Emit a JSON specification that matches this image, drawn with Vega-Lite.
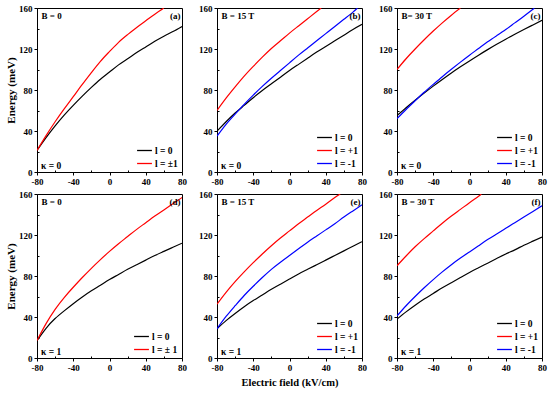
{
"$schema":"https://vega.github.io/schema/vega-lite/v6.json",
"padding":{"left":5,"top":3,"right":5,"bottom":3},
"background":"white",
"config":{
 "font":"Liberation Serif",
 "view":{"stroke":"black","strokeWidth":1},
 "axis":{"grid":false,"labelFont":"Liberation Serif","labelFontWeight":"bold","labelFontSize":9,"labelColor":"black","tickColor":"black","domainColor":"black","tickSize":{"expr":"datum.value % 40 === 0 ? 3 : -2"},"labelPadding":2,"labelFlush":false,"labelOverlap":false,"titleFont":"Liberation Serif","titleFontWeight":"bold","titleFontSize":11,"titleColor":"black","titlePadding":2,"labelExpr":"datum.value % 40 === 0 ? toString(datum.value) : ''"},
 "axisX":{"titlePadding":5,"titleFontSize":10.5},
 "legend":{"title":null,"orient":"bottom-right","offset":4,"symbolType":"stroke","symbolSize":220,"symbolStrokeWidth":1.3,"labelFont":"Liberation Serif","labelFontWeight":"bold","labelFontSize":9.5,"labelColor":"black","rowPadding":-4.5,"labelOffset":2,"padding":0},
 "text":{"font":"Liberation Serif","fontWeight":"bold","fontSize":9,"color":"black"}
},
"data":{"values":[
{"p":"a","s":"l = 0","x":-80,"y":21},{"p":"a","s":"l = 0","x":-70,"y":33.5},{"p":"a","s":"l = 0","x":-60,"y":45},{"p":"a","s":"l = 0","x":-50,"y":55.5},{"p":"a","s":"l = 0","x":-40,"y":65},{"p":"a","s":"l = 0","x":-30,"y":74},{"p":"a","s":"l = 0","x":-20,"y":82.5},{"p":"a","s":"l = 0","x":-10,"y":90.5},{"p":"a","s":"l = 0","x":0,"y":97.5},{"p":"a","s":"l = 0","x":10,"y":104.5},{"p":"a","s":"l = 0","x":20,"y":110.5},{"p":"a","s":"l = 0","x":30,"y":116.5},{"p":"a","s":"l = 0","x":40,"y":122},{"p":"a","s":"l = 0","x":50,"y":127.5},{"p":"a","s":"l = 0","x":60,"y":132.5},{"p":"a","s":"l = 0","x":70,"y":137},{"p":"a","s":"l = 0","x":80,"y":142},
{"p":"a","s":"l = ±1","x":-80,"y":21},{"p":"a","s":"l = ±1","x":-70,"y":35.5},{"p":"a","s":"l = ±1","x":-60,"y":49},{"p":"a","s":"l = ±1","x":-50,"y":61.5},{"p":"a","s":"l = ±1","x":-40,"y":73.5},{"p":"a","s":"l = ±1","x":-30,"y":85.5},{"p":"a","s":"l = ±1","x":-20,"y":97},{"p":"a","s":"l = ±1","x":-10,"y":108},{"p":"a","s":"l = ±1","x":0,"y":117.5},{"p":"a","s":"l = ±1","x":10,"y":126.5},{"p":"a","s":"l = ±1","x":20,"y":134},{"p":"a","s":"l = ±1","x":30,"y":141},{"p":"a","s":"l = ±1","x":40,"y":147.5},{"p":"a","s":"l = ±1","x":50,"y":154},{"p":"a","s":"l = ±1","x":60,"y":160},
{"p":"b","s":"l = 0","x":-80,"y":40},{"p":"b","s":"l = 0","x":-70,"y":49},{"p":"b","s":"l = 0","x":-60,"y":57.5},{"p":"b","s":"l = 0","x":-50,"y":65},{"p":"b","s":"l = 0","x":-40,"y":72.5},{"p":"b","s":"l = 0","x":-30,"y":79.5},{"p":"b","s":"l = 0","x":-20,"y":86},{"p":"b","s":"l = 0","x":-10,"y":92.5},{"p":"b","s":"l = 0","x":0,"y":99},{"p":"b","s":"l = 0","x":10,"y":105},{"p":"b","s":"l = 0","x":20,"y":111},{"p":"b","s":"l = 0","x":30,"y":117},{"p":"b","s":"l = 0","x":40,"y":122.5},{"p":"b","s":"l = 0","x":50,"y":128},{"p":"b","s":"l = 0","x":60,"y":133.5},{"p":"b","s":"l = 0","x":70,"y":139},{"p":"b","s":"l = 0","x":80,"y":144},
{"p":"b","s":"l = +1","x":-80,"y":60},{"p":"b","s":"l = +1","x":-70,"y":72},{"p":"b","s":"l = +1","x":-60,"y":83},{"p":"b","s":"l = +1","x":-50,"y":93.5},{"p":"b","s":"l = +1","x":-40,"y":103},{"p":"b","s":"l = +1","x":-30,"y":112},{"p":"b","s":"l = +1","x":-20,"y":120.5},{"p":"b","s":"l = +1","x":-10,"y":128},{"p":"b","s":"l = +1","x":0,"y":135.5},{"p":"b","s":"l = +1","x":10,"y":142.5},{"p":"b","s":"l = +1","x":20,"y":149.5},{"p":"b","s":"l = +1","x":30,"y":156.5},{"p":"b","s":"l = +1","x":35,"y":160},
{"p":"b","s":"l = -1","x":-80,"y":35},{"p":"b","s":"l = -1","x":-70,"y":46.5},{"p":"b","s":"l = -1","x":-60,"y":56.5},{"p":"b","s":"l = -1","x":-50,"y":66},{"p":"b","s":"l = -1","x":-40,"y":75},{"p":"b","s":"l = -1","x":-30,"y":83.5},{"p":"b","s":"l = -1","x":-20,"y":91.5},{"p":"b","s":"l = -1","x":-10,"y":99},{"p":"b","s":"l = -1","x":0,"y":106.5},{"p":"b","s":"l = -1","x":10,"y":114},{"p":"b","s":"l = -1","x":20,"y":121},{"p":"b","s":"l = -1","x":30,"y":128},{"p":"b","s":"l = -1","x":40,"y":135},{"p":"b","s":"l = -1","x":50,"y":142},{"p":"b","s":"l = -1","x":60,"y":149},{"p":"b","s":"l = -1","x":70,"y":156},{"p":"b","s":"l = -1","x":75,"y":160},
{"p":"c","s":"l = 0","x":-80,"y":55},{"p":"c","s":"l = 0","x":-70,"y":62.7},{"p":"c","s":"l = 0","x":-60,"y":70},{"p":"c","s":"l = 0","x":-50,"y":77},{"p":"c","s":"l = 0","x":-40,"y":83.8},{"p":"c","s":"l = 0","x":-30,"y":90.3},{"p":"c","s":"l = 0","x":-20,"y":96.6},{"p":"c","s":"l = 0","x":-10,"y":102.6},{"p":"c","s":"l = 0","x":0,"y":108.4},{"p":"c","s":"l = 0","x":10,"y":114},{"p":"c","s":"l = 0","x":20,"y":119.4},{"p":"c","s":"l = 0","x":30,"y":124.6},{"p":"c","s":"l = 0","x":40,"y":129.6},{"p":"c","s":"l = 0","x":50,"y":134.4},{"p":"c","s":"l = 0","x":60,"y":139},{"p":"c","s":"l = 0","x":70,"y":143.5},{"p":"c","s":"l = 0","x":80,"y":148},
{"p":"c","s":"l = +1","x":-80,"y":100},{"p":"c","s":"l = +1","x":-70,"y":110.5},{"p":"c","s":"l = +1","x":-60,"y":120},{"p":"c","s":"l = +1","x":-50,"y":129},{"p":"c","s":"l = +1","x":-40,"y":137.5},{"p":"c","s":"l = +1","x":-30,"y":145.5},{"p":"c","s":"l = +1","x":-20,"y":153},{"p":"c","s":"l = +1","x":-10,"y":160},
{"p":"c","s":"l = -1","x":-80,"y":52},{"p":"c","s":"l = -1","x":-70,"y":61},{"p":"c","s":"l = -1","x":-60,"y":69.5},{"p":"c","s":"l = -1","x":-50,"y":77.8},{"p":"c","s":"l = -1","x":-40,"y":85.5},{"p":"c","s":"l = -1","x":-30,"y":93},{"p":"c","s":"l = -1","x":-20,"y":100.2},{"p":"c","s":"l = -1","x":-10,"y":107.2},{"p":"c","s":"l = -1","x":0,"y":114},{"p":"c","s":"l = -1","x":10,"y":120.5},{"p":"c","s":"l = -1","x":20,"y":127},{"p":"c","s":"l = -1","x":30,"y":133},{"p":"c","s":"l = -1","x":40,"y":139},{"p":"c","s":"l = -1","x":50,"y":145.5},{"p":"c","s":"l = -1","x":60,"y":152},{"p":"c","s":"l = -1","x":70,"y":158.8},{"p":"c","s":"l = -1","x":72,"y":160},
{"p":"d","s":"l = 0","x":-80,"y":17},{"p":"d","s":"l = 0","x":-70,"y":29},{"p":"d","s":"l = 0","x":-60,"y":38.5},{"p":"d","s":"l = 0","x":-50,"y":46},{"p":"d","s":"l = 0","x":-40,"y":53},{"p":"d","s":"l = 0","x":-30,"y":59.5},{"p":"d","s":"l = 0","x":-20,"y":65.5},{"p":"d","s":"l = 0","x":-10,"y":71},{"p":"d","s":"l = 0","x":0,"y":76.5},{"p":"d","s":"l = 0","x":10,"y":81.5},{"p":"d","s":"l = 0","x":20,"y":86.5},{"p":"d","s":"l = 0","x":30,"y":91},{"p":"d","s":"l = 0","x":40,"y":95.5},{"p":"d","s":"l = 0","x":50,"y":100},{"p":"d","s":"l = 0","x":60,"y":104},{"p":"d","s":"l = 0","x":70,"y":108},{"p":"d","s":"l = 0","x":80,"y":112},
{"p":"d","s":"l = ± 1","x":-80,"y":17},{"p":"d","s":"l = ± 1","x":-70,"y":33.5},{"p":"d","s":"l = ± 1","x":-60,"y":47.5},{"p":"d","s":"l = ± 1","x":-50,"y":59},{"p":"d","s":"l = ± 1","x":-40,"y":69},{"p":"d","s":"l = ± 1","x":-30,"y":78.5},{"p":"d","s":"l = ± 1","x":-20,"y":87.5},{"p":"d","s":"l = ± 1","x":-10,"y":96},{"p":"d","s":"l = ± 1","x":0,"y":104},{"p":"d","s":"l = ± 1","x":10,"y":111.5},{"p":"d","s":"l = ± 1","x":20,"y":118.5},{"p":"d","s":"l = ± 1","x":30,"y":125.5},{"p":"d","s":"l = ± 1","x":40,"y":132},{"p":"d","s":"l = ± 1","x":50,"y":138.5},{"p":"d","s":"l = ± 1","x":60,"y":144.5},{"p":"d","s":"l = ± 1","x":70,"y":150.5},{"p":"d","s":"l = ± 1","x":80,"y":156.5},
{"p":"e","s":"l = 0","x":-80,"y":28.5},{"p":"e","s":"l = 0","x":-70,"y":36.5},{"p":"e","s":"l = 0","x":-60,"y":43.5},{"p":"e","s":"l = 0","x":-50,"y":50},{"p":"e","s":"l = 0","x":-40,"y":56},{"p":"e","s":"l = 0","x":-30,"y":61.5},{"p":"e","s":"l = 0","x":-20,"y":67},{"p":"e","s":"l = 0","x":-10,"y":72},{"p":"e","s":"l = 0","x":0,"y":77},{"p":"e","s":"l = 0","x":10,"y":82},{"p":"e","s":"l = 0","x":20,"y":86.5},{"p":"e","s":"l = 0","x":30,"y":91},{"p":"e","s":"l = 0","x":40,"y":95.5},{"p":"e","s":"l = 0","x":50,"y":100},{"p":"e","s":"l = 0","x":60,"y":104.5},{"p":"e","s":"l = 0","x":70,"y":109},{"p":"e","s":"l = 0","x":80,"y":113.5},
{"p":"e","s":"l = +1","x":-80,"y":52.5},{"p":"e","s":"l = +1","x":-70,"y":64},{"p":"e","s":"l = +1","x":-60,"y":74.5},{"p":"e","s":"l = +1","x":-50,"y":84},{"p":"e","s":"l = +1","x":-40,"y":93},{"p":"e","s":"l = +1","x":-30,"y":101.5},{"p":"e","s":"l = +1","x":-20,"y":109.5},{"p":"e","s":"l = +1","x":-10,"y":117},{"p":"e","s":"l = +1","x":0,"y":124},{"p":"e","s":"l = +1","x":10,"y":131},{"p":"e","s":"l = +1","x":20,"y":137.5},{"p":"e","s":"l = +1","x":30,"y":144},{"p":"e","s":"l = +1","x":40,"y":150},{"p":"e","s":"l = +1","x":50,"y":156.5},{"p":"e","s":"l = +1","x":56,"y":160},
{"p":"e","s":"l = -1","x":-80,"y":28.5},{"p":"e","s":"l = -1","x":-70,"y":40.5},{"p":"e","s":"l = -1","x":-60,"y":51},{"p":"e","s":"l = -1","x":-50,"y":61},{"p":"e","s":"l = -1","x":-40,"y":70},{"p":"e","s":"l = -1","x":-30,"y":78.5},{"p":"e","s":"l = -1","x":-20,"y":86.5},{"p":"e","s":"l = -1","x":-10,"y":93.5},{"p":"e","s":"l = -1","x":0,"y":100},{"p":"e","s":"l = -1","x":10,"y":106.5},{"p":"e","s":"l = -1","x":20,"y":113},{"p":"e","s":"l = -1","x":30,"y":119},{"p":"e","s":"l = -1","x":40,"y":125},{"p":"e","s":"l = -1","x":50,"y":131},{"p":"e","s":"l = -1","x":60,"y":137.5},{"p":"e","s":"l = -1","x":70,"y":143.5},{"p":"e","s":"l = -1","x":80,"y":149.5},
{"p":"f","s":"l = 0","x":-80,"y":38},{"p":"f","s":"l = 0","x":-70,"y":45},{"p":"f","s":"l = 0","x":-60,"y":51.5},{"p":"f","s":"l = 0","x":-50,"y":57.5},{"p":"f","s":"l = 0","x":-40,"y":63},{"p":"f","s":"l = 0","x":-30,"y":68.5},{"p":"f","s":"l = 0","x":-20,"y":73.5},{"p":"f","s":"l = 0","x":-10,"y":78.5},{"p":"f","s":"l = 0","x":0,"y":83.5},{"p":"f","s":"l = 0","x":10,"y":88},{"p":"f","s":"l = 0","x":20,"y":92.5},{"p":"f","s":"l = 0","x":30,"y":97},{"p":"f","s":"l = 0","x":40,"y":101.5},{"p":"f","s":"l = 0","x":50,"y":105.5},{"p":"f","s":"l = 0","x":60,"y":110},{"p":"f","s":"l = 0","x":70,"y":114},{"p":"f","s":"l = 0","x":80,"y":118},
{"p":"f","s":"l = +1","x":-80,"y":90},{"p":"f","s":"l = +1","x":-70,"y":99.5},{"p":"f","s":"l = +1","x":-60,"y":108.5},{"p":"f","s":"l = +1","x":-50,"y":116.5},{"p":"f","s":"l = +1","x":-40,"y":124},{"p":"f","s":"l = +1","x":-30,"y":131.5},{"p":"f","s":"l = +1","x":-20,"y":138.5},{"p":"f","s":"l = +1","x":-10,"y":145},{"p":"f","s":"l = +1","x":0,"y":151.5},{"p":"f","s":"l = +1","x":10,"y":157.8},{"p":"f","s":"l = +1","x":13,"y":160},
{"p":"f","s":"l = -1","x":-80,"y":41},{"p":"f","s":"l = -1","x":-70,"y":51},{"p":"f","s":"l = -1","x":-60,"y":60},{"p":"f","s":"l = -1","x":-50,"y":68.5},{"p":"f","s":"l = -1","x":-40,"y":76.5},{"p":"f","s":"l = -1","x":-30,"y":84},{"p":"f","s":"l = -1","x":-20,"y":91},{"p":"f","s":"l = -1","x":-10,"y":97.5},{"p":"f","s":"l = -1","x":0,"y":103.5},{"p":"f","s":"l = -1","x":10,"y":109.5},{"p":"f","s":"l = -1","x":20,"y":115.5},{"p":"f","s":"l = -1","x":30,"y":121},{"p":"f","s":"l = -1","x":40,"y":126.5},{"p":"f","s":"l = -1","x":50,"y":132},{"p":"f","s":"l = -1","x":60,"y":137.5},{"p":"f","s":"l = -1","x":70,"y":143},{"p":"f","s":"l = -1","x":80,"y":148.5}
]},
"resolve":{"scale":{"color":"independent"},"legend":{"color":"independent"}},
"spacing":2,
"vconcat":[
{"hconcat":[
 {"width":145,"height":164,"layer":[
  {"transform":[{"filter":"datum.p==='a'"}],"mark":{"type":"line","interpolate":"natural","clip":true,"strokeWidth":1.2},
   "encoding":{"x":{"field":"x","type":"quantitative","scale":{"domain":[-80,80],"nice":false},"title":null,"axis":{"values":[-80,-60,-40,-20,0,20,40,60,80]}},
    "y":{"field":"y","type":"quantitative","scale":{"domain":[0,160],"nice":false},"title":"Energy (meV)","axis":{"values":[0,20,40,60,80,100,120,140,160]}},
    "color":{"field":"s","type":"nominal","scale":{"domain":["l = 0","l = ±1"],"range":["black","red"]}}}},
  {"data":{"values":[{}]},"mark":{"type":"text","text":"B = 0","align":"left","baseline":"top","dx":4.5,"dy":3.5},"encoding":{"x":{"datum":-80,"axis":{"values":[-80,-60,-40,-20,0,20,40,60,80]}},"y":{"datum":160,"axis":{"values":[0,20,40,60,80,100,120,140,160]}}}},
  {"data":{"values":[{}]},"mark":{"type":"text","text":"(a)","align":"right","baseline":"top","dx":-1.5,"dy":3.5},"encoding":{"x":{"datum":80,"axis":{"values":[-80,-60,-40,-20,0,20,40,60,80]}},"y":{"datum":160,"axis":{"values":[0,20,40,60,80,100,120,140,160]}}}},
  {"data":{"values":[{}]},"mark":{"type":"text","text":"κ = 0","fontSize":9.5,"align":"left","baseline":"alphabetic","dx":4,"dy":-3},"encoding":{"x":{"datum":-80,"axis":{"values":[-80,-60,-40,-20,0,20,40,60,80]}},"y":{"datum":0,"axis":{"values":[0,20,40,60,80,100,120,140,160]}}}}
 ]},
 {"width":145,"height":164,"layer":[
  {"transform":[{"filter":"datum.p==='b'"}],"mark":{"type":"line","interpolate":"natural","clip":true,"strokeWidth":1.2},
   "encoding":{"x":{"field":"x","type":"quantitative","scale":{"domain":[-80,80],"nice":false},"title":null,"axis":{"values":[-80,-60,-40,-20,0,20,40,60,80]}},
    "y":{"field":"y","type":"quantitative","scale":{"domain":[0,160],"nice":false},"title":null,"axis":{"values":[0,20,40,60,80,100,120,140,160]}},
    "color":{"field":"s","type":"nominal","scale":{"domain":["l = 0","l = +1","l = -1"],"range":["black","red","blue"]}}}},
  {"data":{"values":[{}]},"mark":{"type":"text","text":"B = 15 T","align":"left","baseline":"top","dx":4.5,"dy":3.5},"encoding":{"x":{"datum":-80,"axis":{"values":[-80,-60,-40,-20,0,20,40,60,80]}},"y":{"datum":160,"axis":{"values":[0,20,40,60,80,100,120,140,160]}}}},
  {"data":{"values":[{}]},"mark":{"type":"text","text":"(b)","align":"right","baseline":"top","dx":-1.5,"dy":3.5},"encoding":{"x":{"datum":80,"axis":{"values":[-80,-60,-40,-20,0,20,40,60,80]}},"y":{"datum":160,"axis":{"values":[0,20,40,60,80,100,120,140,160]}}}},
  {"data":{"values":[{}]},"mark":{"type":"text","text":"κ = 0","fontSize":9.5,"align":"left","baseline":"alphabetic","dx":4,"dy":-3},"encoding":{"x":{"datum":-80,"axis":{"values":[-80,-60,-40,-20,0,20,40,60,80]}},"y":{"datum":0,"axis":{"values":[0,20,40,60,80,100,120,140,160]}}}}
 ]},
 {"width":145,"height":164,"layer":[
  {"transform":[{"filter":"datum.p==='c'"}],"mark":{"type":"line","interpolate":"natural","clip":true,"strokeWidth":1.2},
   "encoding":{"x":{"field":"x","type":"quantitative","scale":{"domain":[-80,80],"nice":false},"title":null,"axis":{"values":[-80,-60,-40,-20,0,20,40,60,80]}},
    "y":{"field":"y","type":"quantitative","scale":{"domain":[0,160],"nice":false},"title":null,"axis":{"values":[0,20,40,60,80,100,120,140,160]}},
    "color":{"field":"s","type":"nominal","scale":{"domain":["l = 0","l = +1","l = -1"],"range":["black","red","blue"]}}}},
  {"data":{"values":[{}]},"mark":{"type":"text","text":"B= 30 T","align":"left","baseline":"top","dx":4.5,"dy":3.5},"encoding":{"x":{"datum":-80,"axis":{"values":[-80,-60,-40,-20,0,20,40,60,80]}},"y":{"datum":160,"axis":{"values":[0,20,40,60,80,100,120,140,160]}}}},
  {"data":{"values":[{}]},"mark":{"type":"text","text":"(c)","align":"right","baseline":"top","dx":-1.5,"dy":3.5},"encoding":{"x":{"datum":80,"axis":{"values":[-80,-60,-40,-20,0,20,40,60,80]}},"y":{"datum":160,"axis":{"values":[0,20,40,60,80,100,120,140,160]}}}},
  {"data":{"values":[{}]},"mark":{"type":"text","text":"κ = 0","fontSize":9.5,"align":"left","baseline":"alphabetic","dx":4,"dy":-3},"encoding":{"x":{"datum":-80,"axis":{"values":[-80,-60,-40,-20,0,20,40,60,80]}},"y":{"datum":0,"axis":{"values":[0,20,40,60,80,100,120,140,160]}}}}
 ]}
],"spacing":11,"resolve":{"scale":{"color":"independent"},"legend":{"color":"independent"}}},
{"hconcat":[
 {"width":145,"height":164,"layer":[
  {"transform":[{"filter":"datum.p==='d'"}],"mark":{"type":"line","interpolate":"natural","clip":true,"strokeWidth":1.2},
   "encoding":{"x":{"field":"x","type":"quantitative","scale":{"domain":[-80,80],"nice":false},"title":null,"axis":{"values":[-80,-60,-40,-20,0,20,40,60,80]}},
    "y":{"field":"y","type":"quantitative","scale":{"domain":[0,160],"nice":false},"title":"Energy (meV)","axis":{"values":[0,20,40,60,80,100,120,140,160]}},
    "color":{"field":"s","type":"nominal","scale":{"domain":["l = 0","l = ± 1"],"range":["black","red"]}}}},
  {"data":{"values":[{}]},"mark":{"type":"text","text":"B = 0","align":"left","baseline":"top","dx":4.5,"dy":3.5},"encoding":{"x":{"datum":-80,"axis":{"values":[-80,-60,-40,-20,0,20,40,60,80]}},"y":{"datum":160,"axis":{"values":[0,20,40,60,80,100,120,140,160]}}}},
  {"data":{"values":[{}]},"mark":{"type":"text","text":"(d)","align":"right","baseline":"top","dx":-1.5,"dy":3.5},"encoding":{"x":{"datum":80,"axis":{"values":[-80,-60,-40,-20,0,20,40,60,80]}},"y":{"datum":160,"axis":{"values":[0,20,40,60,80,100,120,140,160]}}}},
  {"data":{"values":[{}]},"mark":{"type":"text","text":"κ = 1","fontSize":9.5,"align":"left","baseline":"alphabetic","dx":4,"dy":-3},"encoding":{"x":{"datum":-80,"axis":{"values":[-80,-60,-40,-20,0,20,40,60,80]}},"y":{"datum":0,"axis":{"values":[0,20,40,60,80,100,120,140,160]}}}}
 ]},
 {"width":145,"height":164,"layer":[
  {"transform":[{"filter":"datum.p==='e'"}],"mark":{"type":"line","interpolate":"natural","clip":true,"strokeWidth":1.2},
   "encoding":{"x":{"field":"x","type":"quantitative","scale":{"domain":[-80,80],"nice":false},"title":"Electric field (kV/cm)","axis":{"values":[-80,-60,-40,-20,0,20,40,60,80]}},
    "y":{"field":"y","type":"quantitative","scale":{"domain":[0,160],"nice":false},"title":null,"axis":{"values":[0,20,40,60,80,100,120,140,160]}},
    "color":{"field":"s","type":"nominal","scale":{"domain":["l = 0","l = +1","l = -1"],"range":["black","red","blue"]}}}},
  {"data":{"values":[{}]},"mark":{"type":"text","text":"B = 15 T","align":"left","baseline":"top","dx":4.5,"dy":3.5},"encoding":{"x":{"datum":-80,"axis":{"values":[-80,-60,-40,-20,0,20,40,60,80]}},"y":{"datum":160,"axis":{"values":[0,20,40,60,80,100,120,140,160]}}}},
  {"data":{"values":[{}]},"mark":{"type":"text","text":"(e)","align":"right","baseline":"top","dx":-1.5,"dy":3.5},"encoding":{"x":{"datum":80,"axis":{"values":[-80,-60,-40,-20,0,20,40,60,80]}},"y":{"datum":160,"axis":{"values":[0,20,40,60,80,100,120,140,160]}}}},
  {"data":{"values":[{}]},"mark":{"type":"text","text":"κ = 1","fontSize":9.5,"align":"left","baseline":"alphabetic","dx":4,"dy":-3},"encoding":{"x":{"datum":-80,"axis":{"values":[-80,-60,-40,-20,0,20,40,60,80]}},"y":{"datum":0,"axis":{"values":[0,20,40,60,80,100,120,140,160]}}}}
 ]},
 {"width":145,"height":164,"layer":[
  {"transform":[{"filter":"datum.p==='f'"}],"mark":{"type":"line","interpolate":"natural","clip":true,"strokeWidth":1.2},
   "encoding":{"x":{"field":"x","type":"quantitative","scale":{"domain":[-80,80],"nice":false},"title":null,"axis":{"values":[-80,-60,-40,-20,0,20,40,60,80]}},
    "y":{"field":"y","type":"quantitative","scale":{"domain":[0,160],"nice":false},"title":null,"axis":{"values":[0,20,40,60,80,100,120,140,160]}},
    "color":{"field":"s","type":"nominal","scale":{"domain":["l = 0","l = +1","l = -1"],"range":["black","red","blue"]}}}},
  {"data":{"values":[{}]},"mark":{"type":"text","text":"B = 30 T","align":"left","baseline":"top","dx":4.5,"dy":3.5},"encoding":{"x":{"datum":-80,"axis":{"values":[-80,-60,-40,-20,0,20,40,60,80]}},"y":{"datum":160,"axis":{"values":[0,20,40,60,80,100,120,140,160]}}}},
  {"data":{"values":[{}]},"mark":{"type":"text","text":"(f)","align":"right","baseline":"top","dx":-1.5,"dy":3.5},"encoding":{"x":{"datum":80,"axis":{"values":[-80,-60,-40,-20,0,20,40,60,80]}},"y":{"datum":160,"axis":{"values":[0,20,40,60,80,100,120,140,160]}}}},
  {"data":{"values":[{}]},"mark":{"type":"text","text":"κ = 1","fontSize":9.5,"align":"left","baseline":"alphabetic","dx":4,"dy":-3},"encoding":{"x":{"datum":-80,"axis":{"values":[-80,-60,-40,-20,0,20,40,60,80]}},"y":{"datum":0,"axis":{"values":[0,20,40,60,80,100,120,140,160]}}}}
 ]}
],"spacing":11,"resolve":{"scale":{"color":"independent"},"legend":{"color":"independent"}}}
]
}
